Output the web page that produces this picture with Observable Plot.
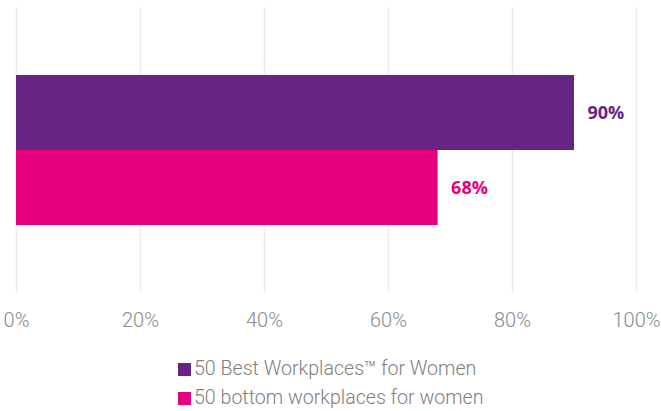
<!DOCTYPE html>
<html>
<head>
<meta charset="utf-8">
<script src="https://cdn.jsdelivr.net/npm/d3@7"></script>
<script src="https://cdn.jsdelivr.net/npm/@observablehq/plot@0.6"></script>
<style>
  body { margin: 0; background: #fff; }
  #chart { width: 661px; }
  .legend { font-family: Roboto, sans-serif; font-weight: 300; font-size: 19.6px; color: #808080; padding-left: 178px; margin-top: 14px; }
  .legend div { height: 29px; line-height: 29px; display: flex; align-items: center; white-space: nowrap; }
  .legend span.sw { display: inline-block; width: 13px; height: 13px; margin-right: 3px; position: relative; top: 1px; }
</style>
</head>
<body>
<div id="chart"></div>
<script>
const categories = ["50 Best Workplaces™ for Women", "50 bottom workplaces for women"];
const values = [90, 68];
const colors = ["#662483", "#e6007e"];
const xTicks = [0, 20, 40, 60, 80, 100];

const data = categories.map((c, i) => ({category: c, value: values[i], color: colors[i]}));

const plot = Plot.plot({
  width: 661,
  height: 340,
  marginLeft: 16,
  marginRight: 25,
  marginTop: 7,
  marginBottom: 47,
  style: {fontFamily: "Roboto, sans-serif", background: "#fff"},
  x: {domain: [0, 100], ticks: xTicks, tickFormat: d => d + "%", label: null},
  y: {domain: categories, paddingInner: 0, paddingOuter: 0.894, axis: null, label: null},
  marks: [
    Plot.ruleX(xTicks, {stroke: "#ececec", strokeWidth: 1.5}),
    Plot.barX(data, {x: "value", y: "category", fill: "color"}),
    Plot.text(data, {x: "value", y: "category", text: d => d.value + "%", fill: "color", dx: 13, textAnchor: "start", fontSize: 18, fontWeight: 700, fontFamily: "Open Sans, sans-serif"}),
    Plot.axisX({ticks: xTicks, tickFormat: d => d + "%", tickSize: 0, tickPadding: 19, fontSize: 20, fontWeight: 300, fill: "#8a8a8a", label: null})
  ]
});
document.getElementById("chart").appendChild(plot);

const legend = document.createElement("div");
legend.className = "legend";
data.forEach(d => {
  const row = document.createElement("div");
  const sw = document.createElement("span");
  sw.className = "sw";
  sw.style.background = d.color;
  row.appendChild(sw);
  row.appendChild(document.createTextNode(d.category));
  legend.appendChild(row);
});
document.getElementById("chart").appendChild(legend);
</script>
</body>
</html>
